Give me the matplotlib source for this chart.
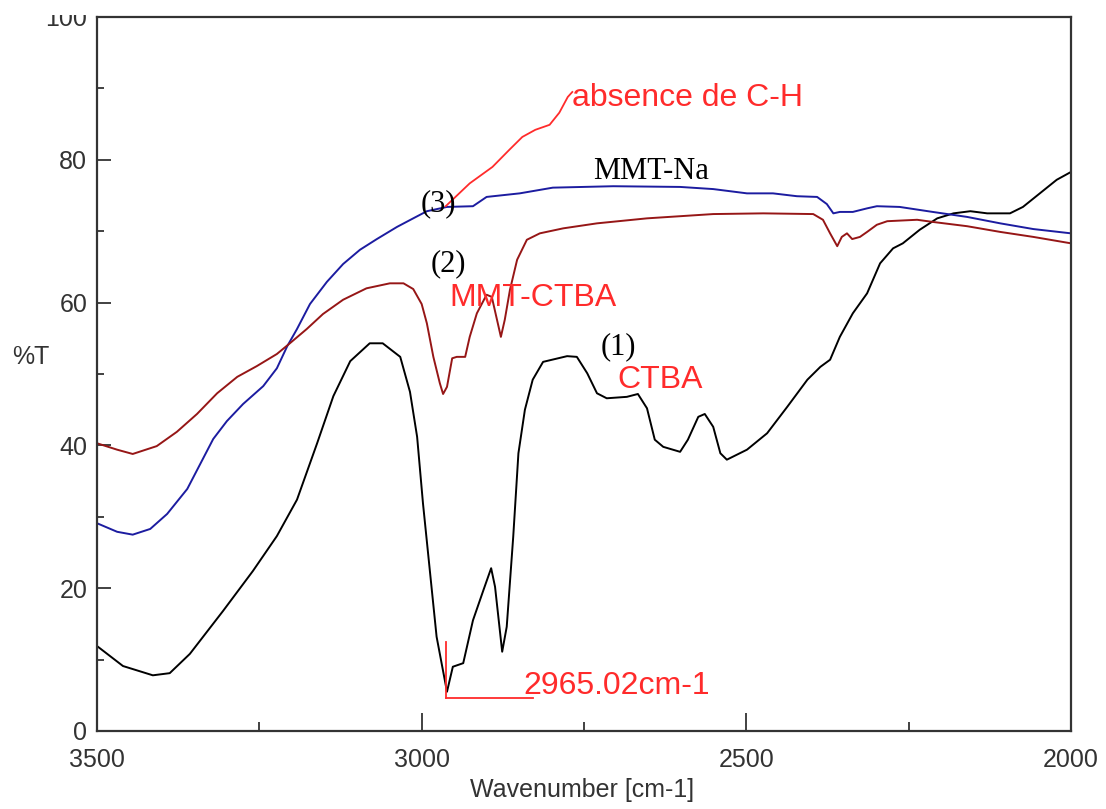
import numpy as np
import matplotlib.pyplot as plt
from matplotlib.patches import Rectangle
from matplotlib.ticker import MultipleLocator

# IR spectra (wavenumber cm-1, %T)
ctba_wn = [3500, 3460, 3414, 3388, 3357, 3306, 3260, 3223, 3192, 3161, 3136, 3110, 3080, 3060,
           3033, 3018, 3007, 2998, 2987, 2977, 2961, 2952, 2936, 2921, 2905, 2893, 2887, 2876,
           2869, 2859, 2851, 2841, 2829, 2813, 2776, 2761, 2745, 2730, 2715, 2684, 2667, 2653,
           2641, 2628, 2602, 2590, 2574, 2564, 2551, 2540, 2530, 2499, 2468, 2437, 2406, 2386,
           2371, 2356, 2336, 2314, 2294, 2274, 2259, 2233, 2206, 2181, 2155, 2129, 2094, 2074,
           2048, 2022, 2000]
ctba_T = [11.9, 9.1, 7.8, 8.1, 10.8, 16.8, 22.4, 27.3, 32.4, 40.3, 46.9, 51.8, 54.3, 54.3,
          52.4, 47.5, 41.2, 31.9, 22.1, 13.2, 5.5, 9.0, 9.5, 15.5, 19.7, 22.8, 20.2, 11.1,
          14.6, 27.2, 38.9, 45.0, 49.2, 51.7, 52.5, 52.4, 50.1, 47.3, 46.6, 46.8, 47.2, 45.2,
          40.8, 39.8, 39.1, 40.8, 44.0, 44.4, 42.6, 38.9, 38.0, 39.4, 41.7, 45.4, 49.2, 51.0,
          52.0, 55.2, 58.5, 61.3, 65.5, 67.6, 68.3, 70.2, 71.8, 72.5, 72.8, 72.5, 72.5, 73.4,
          75.3, 77.2, 78.3]

na_wn = [3500, 3469, 3445, 3418, 3392, 3361, 3341, 3321, 3300, 3275, 3244, 3223, 3207, 3192,
         3172, 3146, 3121, 3095, 3069, 3038, 3013, 2992, 2961, 2921, 2900, 2849, 2798, 2705,
         2602, 2551, 2499, 2459, 2422, 2391, 2376, 2366, 2356, 2336, 2314, 2299, 2264, 2213,
         2160, 2109, 2058, 2000]
na_T = [29.1, 27.9, 27.5, 28.3, 30.4, 33.9, 37.4, 40.9, 43.4, 45.8, 48.3, 50.8, 53.9, 56.3,
        59.8, 62.9, 65.4, 67.4, 68.9, 70.6, 71.8, 72.8, 73.4, 73.5, 74.8, 75.3, 76.1, 76.3,
        76.2, 75.9, 75.3, 75.3, 74.9, 74.8, 73.8, 72.5, 72.7, 72.7, 73.2, 73.5, 73.4, 72.7,
        72.0, 71.1, 70.3, 69.7]

mmt_wn = [3500, 3469, 3445, 3408, 3377, 3346, 3315, 3284, 3254, 3223, 3203, 3177, 3152, 3121,
          3085, 3049, 3028, 3013, 3000, 2992, 2982, 2972, 2967, 2961, 2953, 2946, 2933, 2926,
          2915, 2900, 2892, 2884, 2878, 2872, 2864, 2853, 2838, 2818, 2782, 2730, 2653, 2551,
          2474, 2397, 2382, 2371, 2360, 2353, 2345, 2337, 2325, 2314, 2299, 2283, 2237, 2213,
          2160, 2109, 2058, 2000]
mmt_T = [40.3, 39.4, 38.8, 39.9, 41.9, 44.4, 47.3, 49.6, 51.1, 52.8, 54.3, 56.3, 58.4, 60.4,
         62.0, 62.7, 62.7, 61.9, 59.8, 57.1, 52.4, 48.7, 47.2, 48.2, 52.2, 52.4, 52.4, 55.2,
         58.5, 61.1, 60.8, 57.6, 55.2, 57.6, 61.8, 66.0, 68.8, 69.7, 70.4, 71.1, 71.8, 72.4,
         72.5, 72.4, 71.6, 69.7, 67.9, 69.2, 69.7, 68.9, 69.2, 69.9, 70.9, 71.4, 71.6, 71.3,
         70.7, 69.9, 69.2, 68.3]

# hand-drawn "absence de C-H" trace
ch_wn = [2963, 2926, 2891, 2865, 2845, 2825, 2803, 2788, 2775, 2768]
ch_T = [73.5, 76.7, 79.0, 81.4, 83.2, 84.2, 84.9, 86.6, 88.8, 89.5]

# peak marker at 2965 cm-1
peak_wn = 2962
peak_top, peak_bot = 12.5, 4.6
peak_end = 2829

red = '#ff2b2b'
axis_col = '#333333'

fig = plt.figure(figsize=(11.06, 8.09), dpi=100)
ax = fig.add_axes([97 / 1106, 78 / 809, 974 / 1106, 714 / 809])

ax.plot(ctba_wn, ctba_T, color='black', lw=1.4)
ax.plot(na_wn, na_T, color='#1c1ca0', lw=1.4)
ax.plot(mmt_wn, mmt_T, color='#961616', lw=1.4)
ax.plot(ch_wn, ch_T, color=red, lw=1.3)
ax.plot([peak_wn, peak_wn], [peak_top, peak_bot], color=red, lw=1.3)
ax.plot([peak_wn, peak_end], [peak_bot, peak_bot], color=red, lw=1.3)

ax.set_xlim(3500, 2000)
ax.set_ylim(0, 100)

ax.xaxis.set_major_locator(MultipleLocator(500))
ax.xaxis.set_minor_locator(MultipleLocator(250))
ax.yaxis.set_major_locator(MultipleLocator(20))
ax.yaxis.set_minor_locator(MultipleLocator(10))

ax.tick_params(axis='x', which='major', direction='in', length=13, width=1.3,
               color=axis_col, pad=12, labelsize=18, labelcolor=axis_col)
ax.tick_params(axis='x', which='minor', direction='in', length=6.5, width=1.3, color=axis_col)
ax.tick_params(axis='y', which='major', direction='in', length=10, width=1.3,
               color=axis_col, pad=7, labelsize=18, labelcolor=axis_col)
ax.tick_params(axis='y', which='minor', direction='in', length=5, width=1.3, color=axis_col)
for lab in ax.get_xticklabels() + ax.get_yticklabels():
    lab.set_family('Liberation Sans')
for s in ax.spines.values():
    s.set_color(axis_col)
    s.set_linewidth(1.6)

# annotations
sans = dict(family='Liberation Sans', fontsize=23, color=red, va='center', ha='left')
serif = dict(family='Liberation Serif', fontsize=22, color='black', va='center', ha='left')
ax.text(2768, 88.7, 'absence de C-H', **sans)
ax.text(2958, 60.6, 'MMT-CTBA', **sans)
ax.text(2699, 49.2, 'CTBA', **sans)
ax.text(2844, 6.3, '2965.02cm-1', **sans)
ax.text(2736, 78.3, 'MMT-Na', **serif)
ax.text(3001, 73.9, '(3)', **serif)
ax.text(2986, 65.4, '(2)', **serif)
ax.text(2725, 53.8, '(1)', **serif)

fig.text(12 / 1106, 1 - 357 / 809, '%T', family='Liberation Sans', fontsize=18,
         color=axis_col, va='center', ha='left')
fig.text(582 / 1106, 1 - 790 / 809, 'Wavenumber [cm-1]', family='Liberation Sans',
         fontsize=18, color=axis_col, va='center', ha='center')

# the original scan is cut just above the frame
fig.add_artist(Rectangle((0, 1 - 15 / 809), 1, 15 / 809, transform=fig.transFigure,
                         facecolor='white', edgecolor='none', zorder=10))

fig.savefig('out.png', dpi=100)
